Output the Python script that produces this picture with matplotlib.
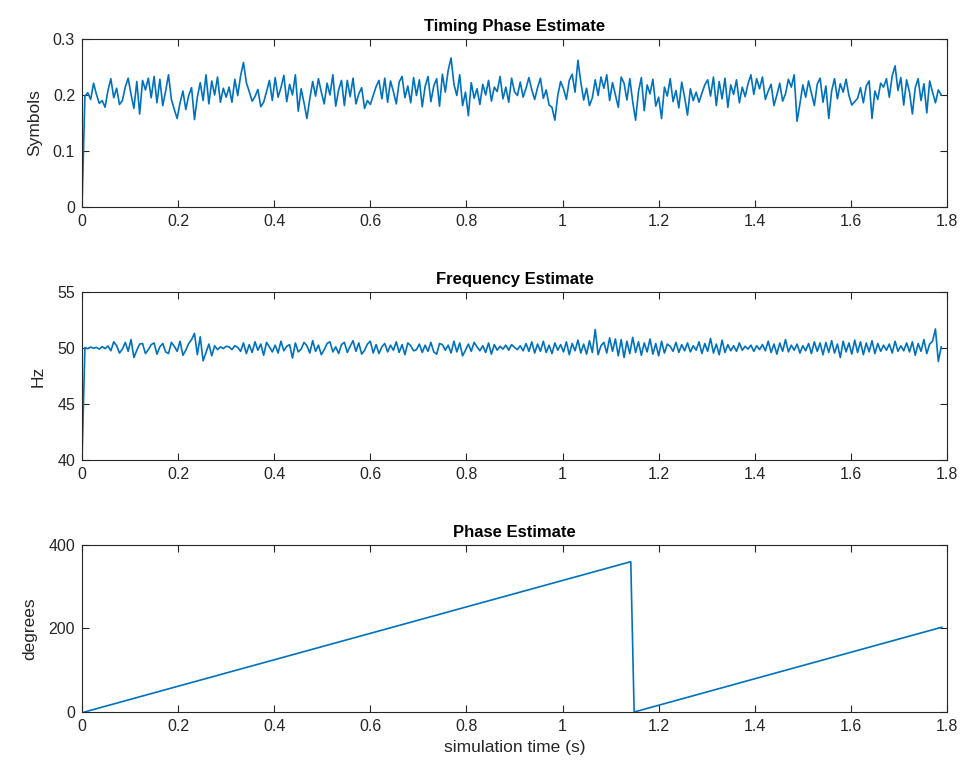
import numpy as np
import matplotlib
matplotlib.use('Agg')
import matplotlib.pyplot as plt

plt.rcParams['font.family'] = ['Liberation Sans', 'DejaVu Sans']

# sample times for the noisy estimates (s)
dt = 0.006
n_samples = 298

# timing phase estimate (thousandths of a symbol)
timing_milli = [
    198, 204, 192, 221, 201, 185, 190, 178, 208, 229,
    195, 212, 183, 190, 214, 230, 201, 176, 224, 166,
    226, 209, 230, 195, 233, 186, 228, 181, 207, 236,
    192, 174, 158, 186, 207, 174, 199, 213, 156, 196,
    222, 190, 236, 184, 225, 200, 232, 187, 212, 196,
    214, 187, 228, 199, 234, 258, 222, 206, 189, 197,
    210, 179, 187, 206, 226, 190, 231, 196, 213, 235,
    188, 219, 200, 236, 171, 211, 186, 158, 193, 224,
    198, 229, 205, 184, 221, 200, 236, 180, 209, 226,
    181, 226, 197, 230, 184, 202, 213, 176, 190, 183,
    199, 215, 226, 193, 230, 187, 225, 206, 184, 223,
    233, 195, 216, 186, 231, 199, 227, 179, 215, 233,
    188, 216, 229, 180, 237, 205, 244, 266, 219, 199,
    236, 181, 205, 163, 222, 194, 211, 183, 219, 200,
    226, 189, 214, 206, 233, 193, 214, 187, 230, 206,
    199, 223, 196, 212, 231, 209, 192, 213, 230, 194,
    209, 182, 178, 155, 199, 224, 211, 192, 226, 237,
    205, 262, 223, 191, 212, 181, 195, 227, 199, 232,
    212, 236, 190, 222, 200, 178, 232, 221, 191, 229,
    188, 155, 206, 231, 172, 218, 202, 228, 180, 196,
    158, 214, 198, 229, 188, 208, 177, 223, 196, 164,
    211, 190, 205, 187, 203, 218, 227, 198, 232, 181,
    224, 193, 230, 178, 218, 201, 227, 186, 214, 197,
    220, 236, 201, 229, 211, 232, 192, 207, 219, 181,
    200, 221, 189, 202, 228, 214, 236, 153, 184, 218,
    196, 225, 203, 181, 219, 230, 187, 216, 158, 207,
    229, 193, 220, 205, 228, 199, 182, 188, 194, 213,
    186, 216, 225, 158, 207, 192, 221, 214, 229, 196,
    234, 252, 208, 231, 182, 227, 205, 166, 213, 229,
    190, 220, 168, 225, 205, 186, 209, 200,
]

# frequency estimate, offset from 50 Hz in hundredths of a Hz
freq_offset = [
    3, -6, 8, -2, 5, -10, 12, -6, 18, -25,
    55, 20, -45, -10, 50, -30, 75, -85, -20, 35,
    40, -50, -15, 30, 45, -55, 10, 40, -35, -50,
    50, 15, -30, 60, -65, -20, 40, 75, 130, -60,
    100, -115, -40, 35, -70, 20, -15, 10, -5, 15,
    10, -15, 20, 5, -30, 45, -50, 30, -40, 55,
    -20, 35, -65, 50, 10, -35, 25, -45, 60, -25,
    15, 30, -90, 45, -35, -10, 50, 20, -45, 65,
    -30, 25, -60, -15, 40, 55, -35, 10, -50, 30,
    50, -40, 15, 65, -30, 45, -55, -20, 35, 60,
    -45, 30, -50, 10, 40, -35, 25, -20, 55, -40,
    30, -60, 45, 20, -25, -15, 35, -40, 25, -30,
    50, -35, -55, 40, 30, -20, 25, -45, 60, -35,
    45, -70, -20, 35, -30, 50, 10, -25, 20, -40,
    45, -55, 30, -20, 15, -10, 25, -20, 30, 5,
    -15, 20, -25, 40, -30, 55, -45, 35, -30, 60,
    -40, 25, -50, 45, -20, 30, -35, 55, -60, 40,
    -25, 70, -45, 35, -55, 65, -40, 165, -60, 20,
    50, -45, 90, -30, 80, -70, 75, -85, 60, -50,
    95, -40, 55, -65, 45, -35, 80, -55, 40, -70,
    60, -45, 35, 15, -30, 50, -40, 30, -25, 45,
    -35, 20, -20, 55, -50, 40, -30, 85, -45, 35,
    -60, 70, -40, 30, -25, 20, -30, 45, -20, 15,
    -10, 25, -30, 20, -15, 30, -25, 60, -40, 35,
    -55, 45, -30, 75, -35, 25, -20, 35, -45, 20,
    -25, 40, -50, 55, -30, 45, -60, 50, -40, 65,
    -45, 35, -85, 60, -35, 45, -55, 70, -40, 55,
    -60, 45, -35, 65, -50, 40, -30, 25, -20, 35,
    -45, 60, -30, 20, -25, 45, -35, 55, -65, 40,
    -30, 75, -50, 35, 60, 170, -120, 10,
]

# phase estimate: ramp, wrap at 360, ramp again
phase_t = [0.005, 1.142, 1.149, 1.789]
phase_deg = [0, 360, 0, 203]

t = dt * np.arange(1, n_samples + 1)
timing = np.array(timing_milli) / 1000.0
freq = 50 + np.array(freq_offset) / 100.0

# both estimators start from their initial value at t = 0
t_timing = np.concatenate([[0.0], t])
timing = np.concatenate([[0.0], timing])
t_freq = np.concatenate([[0.0], t])
freq = np.concatenate([[40.0], freq])

line_col = '#0072BD'
ax_col = '#262626'

fig = plt.figure(figsize=(9.66, 7.79), dpi=100)
ax1 = fig.add_axes([0.0849, 0.7343, 0.8954, 0.2157])
ax2 = fig.add_axes([0.0849, 0.4095, 0.8954, 0.2157])
ax3 = fig.add_axes([0.0849, 0.0860, 0.8954, 0.2144])

ax1.plot(t_timing, timing, color=line_col, lw=1.2)
ax1.set_ylim(0, 0.3)
ax1.set_yticks([0, 0.1, 0.2, 0.3])
ax1.set_yticklabels(['0', '0.1', '0.2', '0.3'])
ax1.set_ylabel('Symbols', labelpad=8)
ax1.set_title('Timing Phase Estimate')

ax2.plot(t_freq, freq, color=line_col, lw=1.2)
ax2.set_ylim(40, 55)
ax2.set_yticks([40, 45, 50, 55])
ax2.set_ylabel('Hz', labelpad=8)
ax2.set_title('Frequency Estimate')

ax3.plot(phase_t, phase_deg, color=line_col, lw=1.2)
ax3.set_ylim(0, 400)
ax3.set_yticks([0, 200, 400])
ax3.set_ylabel('degrees', labelpad=8)
ax3.set_xlabel('simulation time (s)')
ax3.set_title('Phase Estimate')

xt = [0, 0.2, 0.4, 0.6, 0.8, 1, 1.2, 1.4, 1.6, 1.8]
for ax in (ax1, ax2, ax3):
    ax.set_xlim(0, 1.8)
    ax.set_xticks(xt)
    ax.set_xticklabels(['0', '0.2', '0.4', '0.6', '0.8', '1', '1.2', '1.4', '1.6', '1.8'])
    ax.tick_params(direction='in', top=True, right=True, length=5, width=0.8,
                   colors=ax_col, labelsize=11.5, pad=5)
    for s in ax.spines.values():
        s.set_color(ax_col)
        s.set_linewidth(0.8)
    ax.yaxis.label.set_size(12.5)
    ax.yaxis.label.set_color(ax_col)
    ax.xaxis.label.set_size(12.5)
    ax.xaxis.label.set_color(ax_col)
    ax.title.set_fontsize(12)
    ax.title.set_fontweight('bold')
    ax.title.set_color('black')

fig.savefig('out.png', dpi=100)
